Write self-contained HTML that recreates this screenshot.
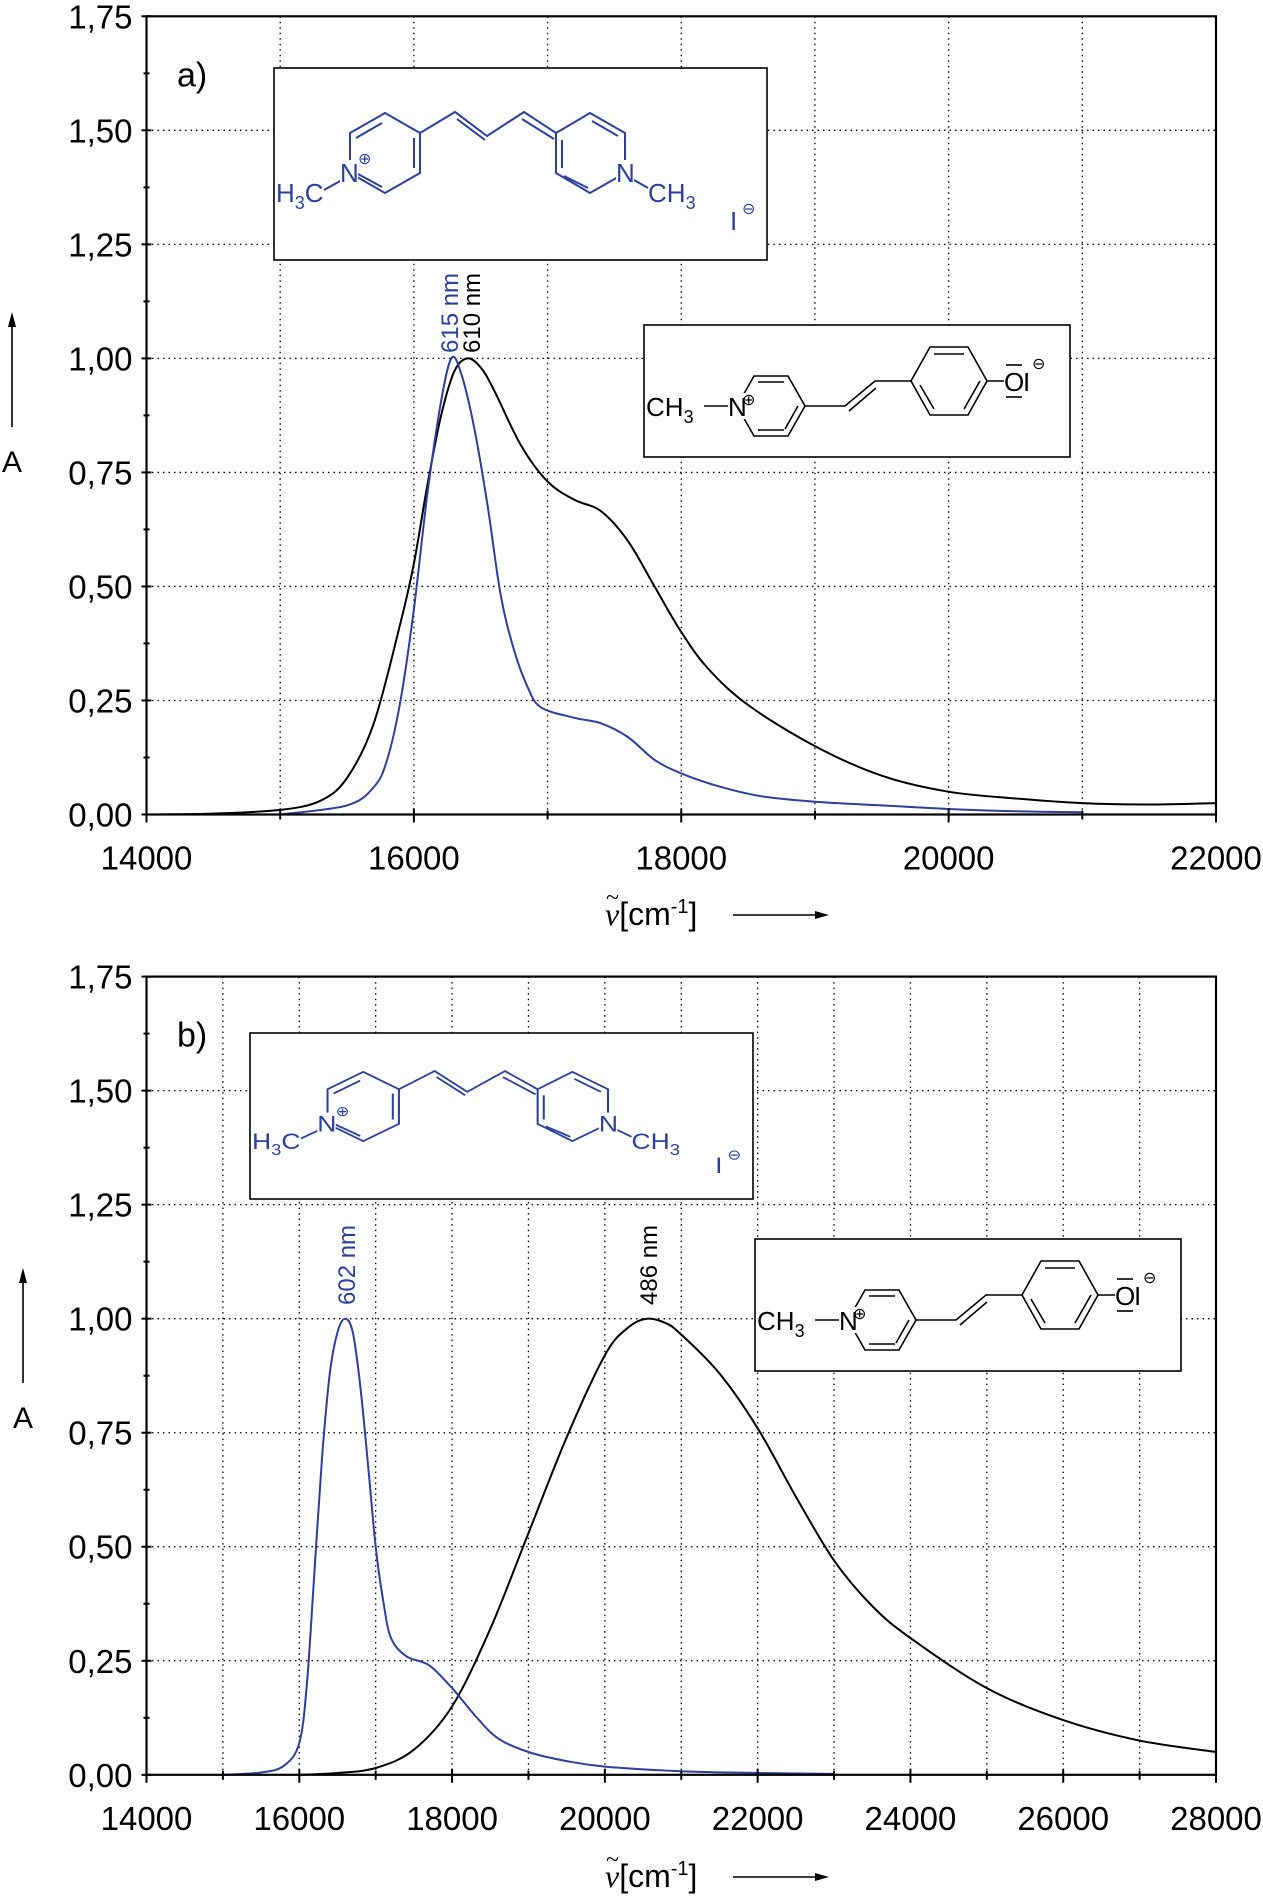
<!DOCTYPE html>
<html><head><meta charset="utf-8"><style>
html,body{margin:0;padding:0;background:#fff;}
svg{display:block;font-family:"Liberation Sans",sans-serif;}
</style></head><body>
<svg id="fig" width="1263" height="1900" viewBox="0 0 1263 1900" xmlns="http://www.w3.org/2000/svg">
<defs>
<g id="mol-cyanine" stroke="#2b3f9e" stroke-width="2" fill="none">
  <polygon points="111,45 146,65 146,105 111,125 76,105 76,65"/>
  <line x1="82" y1="70" x2="108" y2="55"/><line x1="140" y1="70" x2="140" y2="100"/><line x1="84" y1="106" x2="108" y2="119"/>
  <polyline points="146,65 181,44 213,68 250,44 282,65"/>
  <line x1="183" y1="51" x2="211" y2="72"/><line x1="248" y1="51" x2="280" y2="71"/>
  <polygon points="316,45 351,65 351,105 316,125 282,105 282,65"/>
  <line x1="318" y1="53" x2="344" y2="68"/><line x1="288" y1="72" x2="288" y2="100"/><line x1="290" y1="108" x2="314" y2="120"/>
  <line x1="68" y1="112" x2="50" y2="122"/><line x1="360" y1="112" x2="374" y2="120"/>
  <g fill="#2b3f9e" stroke="none" font-size="26">
   <rect x="66" y="92" width="18" height="24" fill="#fff"/>
   <rect x="342" y="92" width="18" height="24" fill="#fff"/>
   <text x="66" y="114">N</text>
   <text x="342" y="114">N</text>
   <text x="2" y="134">H<tspan font-size="18" dy="7">3</tspan><tspan dy="-7">C</tspan></text>
   <text x="374" y="134">CH<tspan font-size="18" dy="7">3</tspan></text>
   <text x="456" y="162">I</text>
   <text x="468" y="146" font-size="16">⊖</text>
   <text x="84" y="96" font-size="16">⊕</text>
  </g>
</g>
<g id="mol-merocyanine" stroke="#000" stroke-width="1.6" fill="none">
  <line x1="60" y1="81" x2="84" y2="81"/>
  <polygon points="93,81 110,51 144,51 161,81 144,111 110,111"/>
  <line x1="114" y1="57" x2="140" y2="57"/><line x1="154" y1="81" x2="141" y2="104"/><line x1="114" y1="105" x2="140" y2="105"/>
  <polyline points="161,81 201,81 231,56 267,56"/>
  <line x1="205" y1="86" x2="232" y2="63"/>
  <polygon points="267,56 286,22 324,22 343,56 324,90 286,90"/>
  <line x1="290" y1="29" x2="320" y2="29"/><line x1="336" y1="56" x2="320" y2="84"/><line x1="290" y1="84" x2="276" y2="60"/>
  <line x1="343" y1="56" x2="360" y2="56"/>
  <g fill="#000" stroke="none" font-size="26">
   <rect x="84" y="68" width="18" height="26" fill="#fff"/>
   <text x="2" y="91">CH<tspan font-size="18" dy="7">3</tspan></text>
   <text x="84" y="91">N</text>
   <text x="98" y="80" font-size="16">⊕</text>
   <text x="360" y="66">O</text><text x="379" y="66">I</text>
   <text x="388" y="44" font-size="16">⊖</text>
  </g>
  <line x1="362" y1="40" x2="378" y2="40"/><line x1="362" y1="72" x2="378" y2="72"/>
</g>
</defs>
<g id="panel-a"></g>
<g id="panel-b"></g>
</svg>
<script>
// ---------- data ----------
const aBlackX = [14000,14500,15000,15300,15500,15700,15900,16000,16100,16200,16300,16400,16500,16600,16800,17000,17200,17400,17600,17800,18000,18200,18500,19000,19500,20000,20500,21000,21500,22000];
const aBlackY = [0,0.002,0.01,0.03,0.08,0.2,0.42,0.55,0.72,0.87,0.97,1.0,0.98,0.93,0.81,0.73,0.69,0.665,0.6,0.5,0.4,0.32,0.24,0.15,0.085,0.05,0.035,0.025,0.022,0.025];
const aBlueX = [15000,15500,15700,15800,15900,16000,16100,16200,16280,16350,16450,16550,16650,16750,16850,16950,17200,17400,17600,17800,18000,18300,18600,19000,19500,20000,20500,21000];
const aBlueY = [0,0.02,0.06,0.12,0.25,0.45,0.7,0.9,1.0,0.97,0.85,0.68,0.48,0.36,0.28,0.235,0.212,0.2,0.17,0.12,0.09,0.06,0.04,0.028,0.02,0.012,0.007,0.005];
const bBlueX = [15000,15500,15800,16000,16100,16200,16300,16400,16500,16600,16700,16800,16900,17000,17100,17200,17400,17700,18000,18300,18600,19000,19500,20000,21000,22000,23000];
const bBlueY = [0,0.005,0.02,0.07,0.2,0.45,0.7,0.88,0.97,1.0,0.97,0.85,0.68,0.5,0.38,0.3,0.26,0.24,0.19,0.13,0.08,0.05,0.03,0.018,0.008,0.004,0.002];
const bBlackX = [16000,16500,17000,17500,18000,18500,19000,19500,20000,20300,20550,20800,21000,21500,22000,22500,23000,23500,24000,25000,26000,27000,28000];
const bBlackY = [0,0.004,0.015,0.055,0.15,0.32,0.53,0.74,0.92,0.98,1.0,0.99,0.965,0.88,0.76,0.61,0.47,0.37,0.3,0.19,0.12,0.075,0.05];
const yTickLabels = ["0,00","0,25","0,50","0,75","1,00","1,25","1,50","1,75"];
const aXTicks = [14000,16000,18000,20000,22000];
const bXTicks = [14000,16000,18000,20000,22000,24000,26000,28000];

const NS="http://www.w3.org/2000/svg";
function mk(parent,tag,attrs,text){const e=document.createElementNS(NS,tag);for(const k in attrs)e.setAttribute(k,attrs[k]);if(text!==undefined)e.textContent=text;parent.appendChild(e);return e;}
function pathFrom(xs,ys,sx,sy){
  const p=xs.map((x,i)=>[sx(x),sy(ys[i])]);
  let d="M"+p[0][0].toFixed(1)+","+p[0][1].toFixed(1);
  for(let i=0;i<p.length-1;i++){
    const p0=p[i-1]||p[i],p1=p[i],p2=p[i+1],p3=p[i+2]||p[i+1];
    const c1=[p1[0]+(p2[0]-p0[0])/6,p1[1]+(p2[1]-p0[1])/6];
    const c2=[p2[0]-(p3[0]-p1[0])/6,p2[1]-(p3[1]-p1[1])/6];
    d+=" C"+c1[0].toFixed(1)+","+c1[1].toFixed(1)+" "+c2[0].toFixed(1)+","+c2[1].toFixed(1)+" "+p2[0].toFixed(1)+","+p2[1].toFixed(1);
  }
  return d;
}

function panel(g,cfg){
  const L=146.5,R=1216,T=cfg.top,B=cfg.bottom;
  const sx=x=>L+(x-cfg.xmin)/(cfg.xmax-cfg.xmin)*(R-L);
  const sy=y=>B-y/1.75*(B-T);
  for(let x=cfg.xmin+1000;x<cfg.xmax;x+=1000){
    const l=mk(g,"line",{x1:sx(x),x2:sx(x),y1:T,y2:B,stroke:"#000","stroke-width":1.3,"stroke-dasharray":"1.5,4"});
    
    
  }
  for(let i=1;i<7;i++){
    const l=mk(g,"line",{x1:L,x2:R,y1:sy(i*0.25),y2:sy(i*0.25),stroke:"#000","stroke-width":1.3,"stroke-dasharray":"1.5,4"});
    
    
  }
  const b1=mk(g,"g",{transform:cfg.box1});
  
  
  mk(b1,"rect",{x:0,y:0,width:cfg.b1w,height:cfg.b1h,fill:"#fff",stroke:"#000","stroke-width":1.6});
  mk(b1,"use",{href:"#mol-cyanine",transform:cfg.b1s});
  const b2=mk(g,"g",{transform:cfg.box2});
  
  
  mk(b2,"rect",{x:0,y:0,width:426,height:132,fill:"#fff",stroke:"#000","stroke-width":1.6});
  mk(b2,"use",{href:"#mol-merocyanine"});
  for(const s of cfg.series){
    const p=mk(g,"path",{d:pathFrom(s.x,s.y,sx,sy),fill:"none",stroke:s.c,"stroke-width":2});
    
    
  }
  const fr=mk(g,"rect",{x:L,y:T,width:R-L,height:B-T,fill:"none",stroke:"#000","stroke-width":2.2});
  
  
  for(let i=0;i<=14;i++){
    const y=sy(i*0.125),len=i%2?6:10;
    mk(g,"line",{x1:L-len/2,x2:L+len/2,y1:y,y2:y,stroke:"#000","stroke-width":2});
  }
  yTickLabels.forEach((t,i)=>{
    const e=mk(g,"text",{x:L-14,y:sy(i*0.25)+12,"text-anchor":"end","font-size":33},t);
    
    
  });
  for(let x=cfg.xmin;x<=cfg.xmax;x+=1000){
    const major=cfg.ticks.includes(x);
    mk(g,"line",{x1:sx(x),x2:sx(x),y1:B-(major?6:4),y2:B+(major?8:5),stroke:"#000","stroke-width":2});
  }
  cfg.ticks.forEach(t=>{
    const e=mk(g,"text",{x:sx(t),y:B+55,"text-anchor":"middle","font-size":33},String(t));
    
    
  });
  const pl=mk(g,"text",{x:177,y:T+70,"font-size":34},cfg.label);
  
  
  const ya=mk(g,"text",{x:cfg.ax,y:cfg.ay,"text-anchor":"middle","font-size":30},"A");
  
  
  mk(g,"line",{x1:cfg.ax,x2:cfg.ax,y1:cfg.ay-45,y2:cfg.ay-150,stroke:"#000","stroke-width":1.6});
  mk(g,"polygon",{points:`${cfg.ax-4},${cfg.ay-145} ${cfg.ax+4},${cfg.ay-145} ${cfg.ax},${cfg.ay-160}`,fill:"#000"});
  const xt=mk(g,"text",{x:cfg.tx,y:cfg.ty,"font-size":32});
  
  
  mk(xt,"tspan",{"font-family":"Liberation Serif, serif","font-style":"italic"},"ν");
  mk(xt,"tspan",{},"[cm");
  mk(xt,"tspan",{"font-size":20,dy:-12},"-1");
  mk(xt,"tspan",{dy:12},"]");
  mk(g,"text",{x:cfg.tx+1,y:cfg.ty-20,"font-size":24,"font-family":"Liberation Serif, serif"},"~");
  mk(g,"line",{x1:cfg.tx+128,x2:cfg.tx+214,y1:cfg.ty-10,y2:cfg.ty-10,stroke:"#000","stroke-width":1.6});
  mk(g,"polygon",{points:`${cfg.tx+210},${cfg.ty-14} ${cfg.tx+210},${cfg.ty-6} ${cfg.tx+224},${cfg.ty-10}`,fill:"#000"});
  cfg.peaks.forEach(p=>{
    const e=mk(g,"text",{transform:`translate(${p.x},${p.y}) rotate(-90)`,"font-size":24,fill:p.c},p.t);
    
    
  });
}

panel(document.getElementById("panel-a"),{
  xmin:14000,xmax:22000,top:16.3,bottom:814.5,ticks:aXTicks,label:"a)",
  box1:"translate(274,68)",b1w:493,b1h:192,b1s:"",
  box2:"translate(644,325)",
  series:[{x:aBlackX,y:aBlackY,c:"#000",name:"series-610nm-black"},{x:aBlueX,y:aBlueY,c:"#2b3f9e",name:"series-615nm-blue"}],
  ax:12,ay:472,tx:605,ty:925,
  peaks:[{x:458,y:353,t:"615 nm",c:"#2b3f9e"},{x:480,y:353,t:"610 nm",c:"#000"}]
});
panel(document.getElementById("panel-b"),{
  xmin:14000,xmax:28000,top:976.6,bottom:1774.8,ticks:bXTicks,label:"b)",
  box1:"translate(250,1033)",b1w:503,b1h:166,b1s:"scale(1.02,0.865)",
  box2:"translate(755,1239)",
  series:[{x:bBlackX,y:bBlackY,c:"#000",name:"series-486nm-black"},{x:bBlueX,y:bBlueY,c:"#2b3f9e",name:"series-602nm-blue"}],
  ax:23,ay:1428,tx:605,ty:1887,
  peaks:[{x:355,y:1305,t:"602 nm",c:"#2b3f9e"},{x:657,y:1305,t:"486 nm",c:"#000"}]
});
</script>
</body></html>
